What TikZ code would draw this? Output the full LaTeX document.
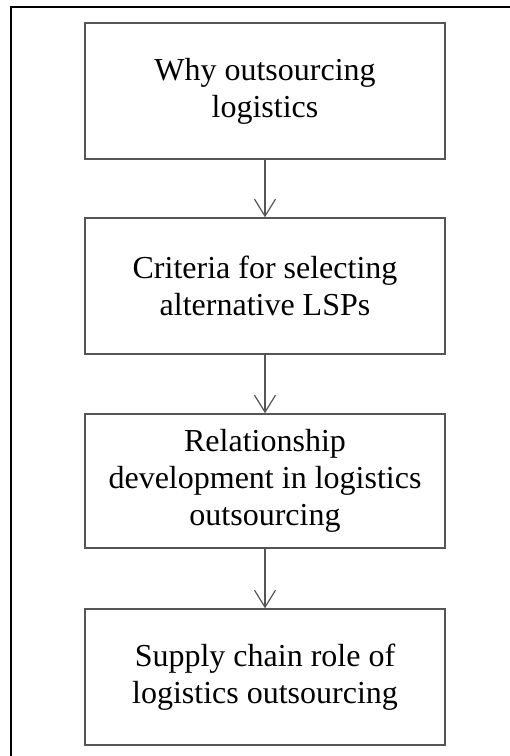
\documentclass[tikz,border=0pt]{standalone}
\usepackage{fontspec}
\setmainfont{Liberation Serif}
\usetikzlibrary{arrows.meta}
\definecolor{edgegray}{HTML}{555555}
\tikzset{
  stagebox/.style={draw=edgegray, line width=1.4pt, minimum width=360pt,
    minimum height=136pt, inner sep=0pt, align=center,
    font=\fontsize{32}{37}\selectfont},
  flow/.style={draw=edgegray, line width=1.4pt,
    -{Straight Barb[length=17pt,width=21pt,line width=1.2pt]}},
  frame/.style={draw=black, line width=1.3pt}
}
\begin{document}
\begin{tikzpicture}[x=1pt,y=-1pt]
  \useasboundingbox (0,0) rectangle (510,756);
  % surrounding frame, open at right and bottom
  \coordinate (fb) at (11,760);
  \coordinate (fc) at (11,7);
  \coordinate (fr) at (514,7);
  \draw[frame] (fb) -- (fc) -- (fr);

  \node[stagebox] (s1) at (265,91) {Why outsourcing\\logistics};
  \node[stagebox] (s2) at (265,286) {Criteria for selecting\\alternative LSPs};
  \node[stagebox, minimum height=134pt] (s3) at (265,481) {Relationship\\development in logistics\\outsourcing};
  \node[stagebox] (s4) at (265,677) {Supply chain role of\\logistics outsourcing};

  \draw[flow] (s1.south) -- (s2.north);
  \draw[flow] (s2.south) -- (s3.north);
  \draw[flow] (s3.south) -- (s4.north);
\end{tikzpicture}
\end{document}
